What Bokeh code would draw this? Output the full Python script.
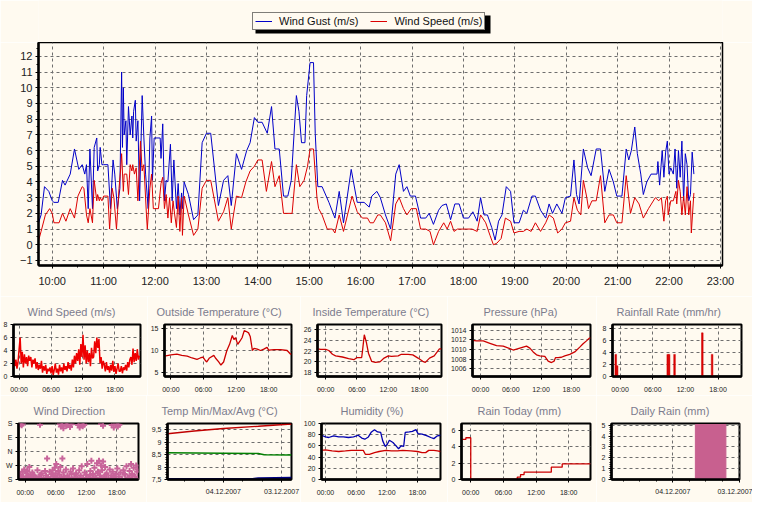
from bokeh.plotting import figure
from bokeh.models import FixedTicker, Legend, LegendItem, BoxAnnotation
from bokeh.layouts import column, row
from bokeh.embed import file_html
from bokeh.resources import INLINE

BG = "#fffaf0"
GRID = "#6e6e6e"
MAIN_FONT = "Liberation Sans"
SMALL_FONT = "Liberation Sans"
TITLE_COLOR = "#7c7c8e"
GUST_COLOR = "#0000c8"
SPEED_COLOR = "#dc0000"

# ---------------- main chart data (time of day, m/s) ----------------
gust_time = ["9:44","9:47","9:51","9:56","10:00","10:02","10:07","10:12","10:15","10:21","10:26","10:31","10:35","10:38","10:40","10:42","10:44","10:47","10:49","10:52","10:53","10:55","10:56","10:58","11:00","11:05","11:08","11:11","11:13","11:16","11:19","11:21","11:22","11:23","11:24","11:26","11:27","11:29","11:31","11:33","11:34","11:35","11:37","11:38","11:40","11:42","11:45","11:47","11:49","11:52","11:54","11:56","11:57","11:59","12:06","12:07","12:09","12:11","12:13","12:15","12:18","12:20","12:22","12:25","12:27","12:29","12:31","12:32","12:34","12:39","12:45","12:50","12:55","13:00","13:05","13:14","13:20","13:25","13:29","13:35","13:41","13:47","13:51","13:56","14:00","14:05","14:11","14:16","14:20","14:25","14:30","14:35","14:39","14:45","14:48","14:51","14:55","14:57","15:01","15:05","15:07","15:10","15:15","15:23","15:30","15:35","15:40","15:49","15:56","16:04","16:10","16:13","16:19","16:23","16:29","16:35","16:41","16:45","16:50","16:54","16:58","17:04","17:10","17:16","17:20","17:25","17:31","17:35","17:40","17:45","17:50","17:55","18:00","18:06","18:11","18:16","18:20","18:24","18:28","18:33","18:37","18:41","18:45","18:50","18:55","18:59","19:05","19:10","19:14","19:20","19:24","19:30","19:36","19:40","19:44","19:49","19:55","19:59","20:05","20:09","20:12","20:15","20:20","20:25","20:29","20:35","20:40","20:45","20:50","20:55","20:59","21:05","21:10","21:13","21:16","21:20","21:23","21:27","21:30","21:34","21:39","21:46","21:47","21:49","21:52","21:54","21:56","21:58","22:00","22:02","22:05","22:07","22:09","22:11","22:13","22:15","22:17","22:19","22:21","22:23","22:25","22:27","22:29"]
gust = [1.4,1.9,3.7,3.4,2.8,2.7,2.7,4.1,3.8,4.5,6.1,4.8,5.1,4.5,5.1,2.3,6.1,2.3,6.2,6.8,4.7,5.1,6.2,5.1,5.1,5.1,2.3,5.4,4.5,2.3,3.6,11.0,6.2,10.0,7.0,7.9,5.1,8.8,7.0,8.2,6.8,8.5,9.2,6.6,7.9,2.8,9.5,6.8,4.5,2.3,6.8,8.2,4.1,6.8,6.8,5.5,7.7,2.8,4.1,4.0,6.4,2.8,5.4,2.3,3.9,1.9,3.3,2.3,4.0,3.2,1.6,1.9,6.5,7.1,7.1,2.5,4.1,4.4,2.5,5.8,4.8,6.0,6.5,8.1,7.8,7.8,7.1,8.8,6.1,6.1,3.1,3.1,4.1,9.5,8.5,6.5,6.5,9.5,11.6,11.6,7.1,3.7,3.7,2.7,1.7,3.4,1.4,4.8,2.7,2.7,2.4,3.1,3.4,3.0,1.9,1.0,4.5,5.1,3.4,3.7,3.1,3.1,1.7,1.7,2.0,1.3,2.2,2.5,2.6,1.6,2.6,2.6,1.7,1.7,2.1,1.5,3.0,1.9,1.9,1.1,0.3,1.5,1.9,3.7,3.4,1.4,1.4,2.2,2.0,3.1,3.1,2.2,1.7,2.6,2.0,2.6,2.0,3.0,3.1,5.4,3.2,2.6,6.1,4.9,4.4,6.1,6.1,3.4,4.8,4.0,3.1,3.1,6.1,5.4,6.0,7.5,5.8,4.5,3.2,4.0,4.5,4.5,5.3,3.8,6.0,4.3,5.9,6.6,4.5,4.9,4.5,6.1,3.6,6.0,4.3,6.6,2.8,5.8,5.1,2.8,3.2,5.9,4.5]

speed_time = ["9:44","9:47","9:52","9:57","10:00","10:02","10:08","10:12","10:16","10:21","10:26","10:30","10:35","10:37","10:40","10:42","10:44","10:47","10:49","10:52","10:53","10:55","10:56","10:58","11:00","11:05","11:07","11:10","11:12","11:15","11:18","11:20","11:21","11:23","11:24","11:27","11:29","11:31","11:33","11:34","11:36","11:38","11:40","11:43","11:45","11:47","11:50","11:51","11:54","11:56","11:58","12:04","12:07","12:09","12:11","12:13","12:15","12:17","12:19","12:21","12:23","12:25","12:27","12:29","12:31","12:32","12:34","12:39","12:45","12:50","12:55","13:00","13:05","13:14","13:20","13:25","13:29","13:35","13:41","13:46","13:51","13:56","14:00","14:05","14:10","14:16","14:20","14:25","14:30","14:40","14:45","14:49","14:54","14:58","15:01","15:05","15:09","15:11","15:15","15:21","15:27","15:30","15:35","15:40","15:50","15:56","16:02","16:08","16:11","16:15","16:20","16:23","16:29","16:35","16:41","16:45","16:50","16:54","16:59","17:05","17:10","17:16","17:21","17:25","17:31","17:37","17:41","17:45","17:49","17:53","17:58","18:04","18:10","18:16","18:20","18:26","18:31","18:35","18:39","18:44","18:49","18:55","18:59","19:05","19:10","19:14","19:19","19:24","19:30","19:36","19:40","19:45","19:50","19:55","19:59","20:05","20:09","20:13","20:17","20:20","20:24","20:26","20:30","20:35","20:40","20:45","20:50","20:55","20:59","21:05","21:10","21:15","21:20","21:25","21:30","21:36","21:44","21:48","21:51","21:54","21:56","21:58","21:59","22:02","22:05","22:08","22:09","22:11","22:13","22:15","22:17","22:19","22:21","22:23","22:25","22:26","22:29"]
speed = [0.25,0.85,1.9,2.3,2.0,1.4,1.4,2.0,1.5,2.3,1.7,3.1,3.7,3.6,1.9,1.4,2.3,1.4,4.1,2.8,3.2,2.8,3.0,2.8,3.1,3.1,1.0,3.6,3.0,1.0,3.6,4.9,5.8,3.4,4.5,4.5,3.2,5.1,4.7,5.1,4.5,4.9,2.8,6.6,4.7,5.1,1.9,1.0,3.6,4.5,2.3,2.3,3.9,4.3,2.3,3.2,1.7,3.0,1.4,2.8,1.9,1.1,3.1,0.85,3.0,0.6,3.1,1.9,0.6,1.0,3.6,4.1,4.1,1.5,2.1,3.0,1.0,3.1,3.0,4.0,4.7,5.0,5.4,5.4,3.4,5.3,3.7,4.4,2.0,2.0,5.1,3.7,4.1,5.0,6.1,6.1,3.0,2.3,1.9,1.0,1.0,0.75,1.9,0.85,3.1,2.1,1.7,1.7,1.4,1.4,1.9,1.9,1.4,0.25,2.6,3.0,2.3,1.9,2.3,2.3,1.0,1.0,0.85,0.0,0.85,1.4,1.0,1.5,0.85,1.0,1.0,1.0,1.0,0.85,1.9,1.4,0.6,0.0,0.1,0.4,1.7,1.5,0.75,0.85,0.85,1.0,0.85,1.4,0.85,1.4,1.9,1.7,0.75,1.0,1.4,1.5,3.0,2.2,1.9,4.1,3.0,2.3,2.8,2.8,4.4,1.4,1.9,1.9,1.4,1.4,4.4,2.0,3.0,2.6,1.7,2.3,3.0,2.8,3.0,1.5,2.8,3.1,1.9,2.8,2.8,3.4,2.6,4.1,3.4,1.9,3.1,1.9,3.7,1.9,2.8,0.75,3.3]

main_ticks = [10, 11, 12, 13, 14, 15, 16, 17, 18, 19, 20, 21, 22, 23]
main_tick_labels = ["10:00", "11:00", "12:00", "13:00", "14:00", "15:00", "16:00",
                    "17:00", "18:00", "19:00", "20:00", "21:00", "22:00", "23:00"]
main_yticks = [-1, 0, 1, 2, 3, 4, 5, 6, 7, 8, 9, 10, 11, 12]
legend_labels = ["Wind Gust (m/s)", "Wind Speed (m/s)"]

# ---------------- small chart data (hours relative to 00:00 of the day) ----------------
day_ticks = [0, 6, 12, 18]
day_labels = ["00:00", "06:00", "12:00", "18:00"]

ws24 = [3.0,1.6,2.6,1.2,2.2, 4.2,6.0,2.0,3.8,1.4, 3.4,2.0,3.0,1.6,3.2, 2.4,3.0,1.4,2.6,2.0,
        2.8,1.2,2.2,1.0,1.8, 1.2,2.4,0.6,1.6,0.9, 1.8,0.4,1.2,0.8,1.4, 0.5,1.6,0.2,1.0,2.0,
        0.6,1.2,0.3,1.8,0.8, 1.4,0.5,2.0,1.0,1.6, 0.8,2.2,1.2,1.8,0.9, 2.6,1.4,3.2,2.0,3.6,
        2.4,4.2,1.8,5.0,3.0, 6.4,2.6,4.8,2.0,4.0, 2.2,3.6,1.6,4.4,2.8, 3.0,5.4,3.6,6.0,4.4,
        5.8,2.0,3.0,1.2,2.4, 1.8,0.8,2.2,1.0,1.6, 0.6,1.8,0.9,2.4,0.7, 1.6,0.4,1.2,2.0,0.8,
        0.8,1.6,0.5,1.4,1.0, 1.8,0.9,2.2,1.4,2.6, 3.0,1.8,4.3,2.2,3.6, 2.4,4.2,2.6,3.2]
ws24_start = -1.0
ws24_step = 0.2

out_t = [-1.17,0.0,1.1,2.0,3.0,3.9,4.8,5.4,5.9,6.3,6.6,7.1,7.9,8.2,8.8,9.2,9.7,10.3,10.8,11.3,11.6,11.9,12.3,12.7,13.1,13.5,13.9,14.3,14.6,15.0,15.3,15.9,16.5,17.1,17.7,18.0,19.0,20.2,21.4,22.0,22.2]
out_v = [8.8,9.1,9.3,9.0,8.8,8.4,8.1,8.4,8.6,7.9,7.5,8.4,9.0,8.4,7.5,6.8,7.5,10.1,11.5,13.5,12.6,13.0,11.5,12.2,13.0,14.6,14.4,14.1,13.3,10.1,10.6,10.4,10.1,10.4,10.8,10.2,10.3,10.3,10.1,9.3,9.3]

in_t = [-1.58,-0.95,0.0,0.6,1.3,1.9,3.2,4.4,5.4,6.0,6.9,7.1,7.4,7.8,8.2,8.8,9.5,10.4,11.2,12.0,12.6,13.9,14.5,15.8,16.7,17.7,18.6,19.1,19.9,20.8,21.8,22.2]
in_v = [22.4,22.3,22.3,22.1,21.4,21.1,20.9,20.6,20.4,20.8,20.8,22.4,25.0,23.6,21.6,20.1,19.9,20.0,20.7,21.1,21.0,21.1,21.4,21.4,21.3,20.7,20.1,19.9,20.7,21.1,22.4,22.4]

pr_t = [-1.6,-0.79,0.53,1.85,3.17,4.49,5.81,6.47,7.46,8.45,9.11,9.77,10.43,11.09,11.75,12.74,13.4,14.06,14.59,14.85,15.38,16.04,16.7,17.69,18.68,19.67,20.33,21.0,21.5,21.8]
pr_v = [1011.9,1011.8,1011.8,1011.3,1010.8,1010.7,1010.2,1009.9,1010.2,1010.5,1010.7,1010.3,1009.5,1008.9,1008.7,1008.6,1007.6,1007.3,1007.6,1008.3,1008.3,1008.4,1008.7,1009.0,1009.5,1010.5,1011.2,1011.8,1012.3,1012.4]

rr_t = [-0.8, -0.55, 8.75, 9.0, 10.0, 15.1, 16.9]
rr_v = [3.7, 1.8, 3.7, 3.7, 3.7, 7.3, 3.7]

dir_t = [-1.0,-0.8,-0.6,-0.4,-0.2,0.0,0.2,0.4,0.6,0.8,1.0,1.2,1.4,1.7,2.0,2.4,2.8,3.2,3.6,3.9,4.1,4.3,4.5,4.8,5.0,5.2,5.4,5.6,5.8,6.0,6.1,6.3,6.5,6.7,6.9,7.1,7.3,7.5,7.8,8.0,8.3,8.6,8.9,9.1,9.4,9.7,10.0,10.3,10.6,10.9,11.1,11.4,11.7,12.0,12.2,12.5,12.8,13.0,13.3,13.6,13.9,14.1,14.3,14.5,14.7,14.9,15.1,15.3,15.5,15.7,16.0,16.3,16.6,16.9,17.2,17.5,17.8,18.1,18.4,18.7,19.0,19.3,19.6,19.9,20.2,20.5,20.8,21.0,21.3,21.6,21.8,22.0,22.1,
         -0.9,-0.7,-0.5,2.9,6.8,7.0,7.2,7.5,7.8,8.1,8.4,8.8,9.1,10.4,10.7,11.0,11.3,11.6,14.9,15.3,17.0,17.4,17.8,18.2,18.5,
         -0.5,0.5,1.5,2.2,3.0,4.6,5.5,6.2,7.6,8.7,9.9,10.8,11.9,12.7,13.5,14.2,15.0,15.9,16.8,17.6,18.9,19.5,20.4,21.1,21.9]
dir_v = [-150,-170,-130,-160,-115,-175,-140,-125,-165,-100,-150,-170,-135,-155,-175,-120,-160,-140,-170,-125,-155,-45,-165,-130,-175,-145,-120,-160,-105,-140,-80,-170,-125,-150,-100,-165,-45,-135,-175,-115,-155,-170,-130,-145,-110,-165,-140,-175,-120,-155,-95,-170,-135,-150,-80,-165,-125,-60,-145,-105,-170,-75,-130,-60,-155,-90,-120,-65,-165,-100,-140,-175,-115,-155,-130,-170,-145,-110,-160,-135,-175,-120,-150,-95,-165,-125,-80,-145,-105,-160,-90,-130,-115,
         175,168,178,172,176,160,170,150,178,165,172,158,175,170,155,178,162,172,176,165,170,155,176,160,172,
         -178,-160,-148,-168,-150,-176,-158,-172,-160,-178,-150,-168,-175,-155,-170,-140,-176,-150,-172,-160,-178,-145,-170,-155,-175]

tmm_ticks = [1, 2]
tmm_labels = ["04.12.2007", "03.12.2007"]
tmax_x = [0.04, 0.5, 1.0, 1.6, 2.17]
tmax_v = [9.33, 9.44, 9.54, 9.63, 9.72]
tavg_x = [0.04, 1.0, 1.6, 1.7, 2.17]
tavg_v = [8.57, 8.55, 8.54, 8.49, 8.48]
tmin_x = [0.04, 1.5, 1.6, 2.17]
tmin_v = [7.5, 7.5, 7.53, 7.55]

hum_t = [-0.77,0.0,0.64,1.6,2.6,3.5,4.5,5.5,6.4,7.1,7.7,8.4,9.0,9.6,10.2,10.8,11.2,11.7,12.1,12.5,13.2,13.8,14.3,14.8,15.3,15.6,16.4,17.0,17.7,18.1,18.9,19.9,20.6,21.2,21.9,22.5]
hum_out = [79,76,75,78,76,76,75,76,79,74,72,76,85,89,85,84,69,59,63,70,66,60,55,60,59,84,85,86,89,82,81,78,75,73,78,79]
hin_t = [-0.77,0.0,1.3,2.6,3.9,5.1,6.4,7.4,7.8,8.6,9.6,10.5,11.8,12.9,14.1,15.1,16.7,18.0,18.9,19.6,20.2,21.2,21.9,22.5]
hum_in = [52,53,51,50,51,52,52,52,45,45,48,50,52,51,51,52,51,50,48,48,52,52,51,50]

rt_t = [-1.7, -0.9, 0.0, 8.55, 9.15, 9.8, 14.8, 16.8, 22.0]
rt_v = [4.9, 5.1, 0.0, 0.3, 0.6, 0.9, 1.5, 1.9, 1.9]

dr_x = [1.57]
dr_v = [5.05]


def hours(times):
    out = []
    for s in times:
        h, m = s.split(":")
        out.append(int(h) + int(m) / 60.0)
    return out


def style(p, font, size, axis_w=2.5):
    p.background_fill_color = BG
    p.border_fill_color = BG
    p.outline_line_color = "black"
    p.outline_line_width = 2
    for ax in list(p.xaxis) + list(p.yaxis):
        ax.axis_line_color = "black"
        ax.axis_line_width = axis_w
        ax.major_tick_line_color = "black"
        ax.minor_tick_line_color = "black"
        ax.major_tick_in = 0
        ax.major_tick_out = 3
        ax.minor_tick_in = 0
        ax.minor_tick_out = 2
        ax.major_label_text_font = font
        ax.major_label_text_font_size = size
        ax.major_label_text_color = "#222222"
        ax.major_label_standoff = 3
    for g in list(p.xgrid) + list(p.ygrid):
        g.grid_line_color = GRID
        g.grid_line_dash = "3 3"
        g.grid_line_width = 1


def small(title, w, h, bl, br, bt, bb, xr, yr, xticks, xlabels, yticks, ylabels=None,
          xminor=None, yminor=None, toff=0):
    p = figure(width=w, height=h, x_range=xr, y_range=yr, title=title,
               output_backend="svg", toolbar_location=None,
               min_border_left=bl, min_border_right=br,
               min_border_top=bt, min_border_bottom=bb)
    style(p, SMALL_FONT, "7px")
    p.xaxis.ticker = FixedTicker(ticks=xticks, minor_ticks=xminor or [])
    p.xaxis.major_label_overrides = dict(zip(xticks, xlabels))
    p.xaxis.major_label_standoff = 6
    p.yaxis.ticker = FixedTicker(ticks=yticks, minor_ticks=yminor or [])
    if ylabels:
        p.yaxis.major_label_overrides = dict(zip(yticks, ylabels))
    p.title.align = "left"
    p.title.offset = toff
    p.title.text_font = MAIN_FONT
    p.title.text_font_size = "11px"
    p.title.text_font_style = "normal"
    p.title.text_color = TITLE_COLOR
    p.title.standoff = 14
    return p


# ---------------- legend strip (above the main chart; frame aligned with main) ----------------
leg = figure(width=752, height=42, x_range=(0, 1), y_range=(0, 1),
             x_axis_location=None, y_axis_location=None,
             output_backend="svg", toolbar_location=None,
             min_border_left=38, min_border_right=30, min_border_top=0, min_border_bottom=0)
leg.background_fill_color = BG
leg.border_fill_color = BG
leg.outline_line_color = None
leg.xgrid.visible = False
leg.ygrid.visible = False
# keys for the legend: the same series, which lie outside this strip's ranges
g_key = leg.line(hours(gust_time), gust, line_color=GUST_COLOR, line_width=1)
s_key = leg.line(hours(speed_time), speed, line_color=SPEED_COLOR, line_width=1)
shadow = BoxAnnotation(left=217, right=452, bottom=9, top=27, level="underlay",
                       left_units="screen", right_units="screen",
                       bottom_units="screen", top_units="screen",
                       fill_color="black", fill_alpha=1.0, line_alpha=0)
leg.add_layout(shadow)
legend = Legend(items=[LegendItem(label=legend_labels[0], renderers=[g_key]),
                       LegendItem(label=legend_labels[1], renderers=[s_key])],
                orientation="horizontal", location=(214, 12),
                label_text_font=MAIN_FONT, label_text_font_size="11px",
                label_text_color="#111111", label_height=10, glyph_height=10,
                glyph_width=17, label_standoff=7, spacing=12, padding=2, margin=0,
                border_line_color="black", border_line_width=1,
                background_fill_color=BG, background_fill_alpha=1.0)
leg.add_layout(legend, "center")

# ---------------- main chart ----------------
main = figure(width=752, height=254, x_range=(9.733, 23.04), y_range=(-1.32, 12.88),
              output_backend="svg", toolbar_location=None,
              min_border_left=38, min_border_right=30, min_border_top=0, min_border_bottom=31)
style(main, MAIN_FONT, "11px")
main.outline_line_width = 1.5
main.xaxis.ticker = FixedTicker(ticks=main_ticks, minor_ticks=[t + 0.5 for t in main_ticks[:-1]])
main.xaxis.major_label_overrides = dict(zip(main_ticks, main_tick_labels))
main.xaxis.major_label_standoff = 6
main.yaxis.ticker = FixedTicker(ticks=main_yticks, minor_ticks=[t + 0.5 for t in main_yticks])
main.line(hours(gust_time), gust, line_color=GUST_COLOR, line_width=1)
main.line(hours(speed_time), speed, line_color=SPEED_COLOR, line_width=1)

# ---------------- row 1 ----------------
fa = small("Wind Speed (m/s)", 147, 99, 11, 7, 27, 17, (-1.05, 22.8), (0, 8),
           day_ticks, day_labels, [0, 2, 4, 6, 8], toff=14)
ws24_t = [ws24_start + ws24_step * i for i in range(len(ws24))]
fa.line(ws24_t, ws24, line_color="#ee0000", line_width=1.5)

fb = small("Outside Temperature (°C)", 153, 99, 17, 9, 27, 17, (-1.18, 22.2), (4.2, 16),
           day_ticks, day_labels, [5, 10, 15], toff=-8)
fb.line(out_t, out_v, line_color="#cc0000", line_width=1.3)

fc = small("Inside Temperature (°C)", 147, 99, 15, 6, 27, 17, (-1.57, 22.2), (17.3, 26.9),
           day_ticks, day_labels, [18, 20, 22, 24, 26], toff=-5)
fc.line(in_t, in_v, line_color="#cc0000", line_width=1.3)

fd = small("Pressure (hPa)", 149, 99, 25, 6, 27, 17, (-1.6, 21.8), (1004.4, 1015.2),
           day_ticks, day_labels, [1006, 1008, 1010, 1012, 1014], toff=11)
fd.line(pr_t, pr_v, line_color="#cc0000", line_width=1.3)

fe = small("Rainfall Rate (mm/hr)", 156, 99, 16, 11, 27, 17, (-1.4, 22.3), (0, 8.7),
           day_ticks, day_labels, [0, 2, 4, 6, 8], toff=4)
fe.vbar(x=rr_t, top=rr_v, width=0.3, fill_color="#dd0000", line_color="#cc0000", line_width=0.5)

# ---------------- row 2 ----------------
ff = small("Wind Direction", 146, 107, 18, 8, 27, 23, (-1.32, 22.26), (-180, 180),
           day_ticks, day_labels, [-180, -90, 0, 90, 180], ["S", "W", "N", "E", "S"], toff=15)
ff.scatter(dir_t, dir_v, marker="cross", size=6, line_width=2, line_color="#c8649a")

fg = small("Temp Min/Max/Avg (°C)", 154, 107, 21, 9, 27, 23, (0.04, 2.17), (7.5, 9.74),
           tmm_ticks, tmm_labels, [7.5, 8, 8.5, 9, 9.5], ["7,5", "8", "8,5", "9", "9,5"],
           xminor=[0.333, 0.667, 1.333, 1.667],
           yminor=[7.6, 7.7, 7.8, 7.9, 8.1, 8.2, 8.3, 8.4, 8.6, 8.7, 8.8, 8.9, 9.1, 9.2, 9.3, 9.4, 9.6, 9.7],
           toff=-6)
fg.line(tmax_x, tmax_v, line_color="#c00000", line_width=1.3)
fg.line(tavg_x, tavg_v, line_color="#008000", line_width=1.3)
fg.line(tmin_x, tmin_v, line_color="#000080", line_width=3)

fh = small("Humidity (%)", 147, 107, 19, 7, 27, 23, (-0.77, 22.5), (0, 100),
           day_ticks, day_labels, [0, 20, 40, 60, 80, 100], toff=19)
fh.line(hum_t, hum_out, line_color="#0000b0", line_width=1.3)
fh.line(hin_t, hum_in, line_color="#cc0000", line_width=1.3)

fi = small("Rain Today (mm)", 149, 107, 14, 6, 27, 23, (-1.7, 22.0), (0, 6.84),
           day_ticks, day_labels, [0, 2, 4, 6], toff=16)
fi.step(rt_t, rt_v, mode="after", line_color="#cc0000", line_width=1.3)

fj = small("Daily Rain (mm)", 156, 107, 15, 13, 27, 23, (0.076, 2.005), (0, 5.15),
           tmm_ticks, tmm_labels, [0, 1, 2, 3, 4, 5],
           xminor=[0.25, 0.5, 0.75, 1.25, 1.5, 1.75],
           yminor=[0.2, 0.4, 0.6, 0.8, 1.2, 1.4, 1.6, 1.8, 2.2, 2.4, 2.6, 2.8, 3.2, 3.4, 3.6, 3.8, 4.2, 4.4, 4.6, 4.8],
           toff=19)
fj.vbar(x=dr_x, top=dr_v, width=0.46, fill_color="#c8608f", line_color="#c8608f")

layout = column(leg, main, row(fa, fb, fc, fd, fe), row(ff, fg, fh, fi, fj))

open("out.html", "w").write(file_html(layout, INLINE))
